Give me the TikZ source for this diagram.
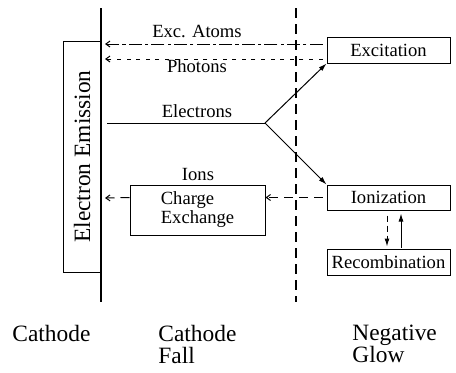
\documentclass[tikz,border=0pt]{standalone}
\usepackage{fontspec}
\setmainfont{Liberation Serif}
\usetikzlibrary{arrows.meta,calc}
\tikzset{
  small/.style={font=\fontsize{9.3}{8.3}\selectfont},
  big/.style={font=\fontsize{11.7}{11}\selectfont},
  box/.style={draw,line width=0.5pt,inner sep=0pt,small},
  lbl/.style={small,inner sep=0pt,anchor=base},
  zone/.style={big,inner sep=0pt,anchor=north west,align=left},
  wall/.style={line width=1.35pt},
  back/.style={-{Straight Barb[length=2.1pt,width=3pt]},line width=0.5pt,shorten <=2pt},
  fwd/.style={-{Latex[length=4pt,width=2.5pt]},line width=0.5pt}
}
\begin{document}
\begin{tikzpicture}[x=0.5pt,y=-0.5pt]
  \useasboundingbox (0,0) rectangle (456,372);
  % cathode surface and edge of the negative glow
  \coordinate (ctop) at (101,8);
  \coordinate (cbot) at (101,302);
  \coordinate (gtop) at (296,8);
  \coordinate (gbot) at (296,302);
  \draw[wall] (ctop) -- (cbot);
  \draw[wall,dash pattern=on 5pt off 3pt] (gtop) -- (gbot);

  \node[box,big,rotate=90,minimum width=115.5pt,minimum height=19pt] (emit) at (82,156.5) {Electron Emission};

  % boxes in the negative glow
  \node[box,minimum width=61.5pt,minimum height=13pt] (exc) at (388.5,50) {Excitation};
  \node[box,minimum width=61.5pt,minimum height=12.5pt] (ion) at (388.5,197.5) {Ionization};
  \node[box,minimum width=61.5pt,minimum height=13pt] (rec) at (388.5,262) {Recombination};
  \node[box,align=left,minimum width=67.5pt,minimum height=25pt] (chg) at (197.5,210) {Charge\\Exchange};

  % points on the cathode
  \coordinate (kexc) at (105,44);
  \coordinate (kph) at (105,59);
  \coordinate (kion) at (105,198);
  \coordinate (kel) at (107,123);
  \coordinate (fork) at (265,123);

  \draw[back,dash pattern=on 6.5pt off 1.6pt on 1.6pt off 1.6pt] ([yshift=3pt]exc.west) -- (kexc);
  \draw[back,dash pattern=on 2pt off 2.8pt] ([yshift=-4.5pt]exc.west) -- (kph);
  \draw[back,dash pattern=on 4.5pt off 3pt] (ion.west) -- (ion.west -| chg.east);
  \draw[back,dash pattern=on 4.5pt off 3pt,shorten <=0pt] (chg.west |- ion.west) -- (kion);

  \draw[line width=0.5pt] (kel) -- (fork);
  \draw[fwd] (fork) -- (exc.south west);
  \draw[fwd] (fork) -- (ion.north west);

  \draw[fwd,dash pattern=on 3pt off 2pt,shorten <=2.5pt,shorten >=1pt] ([xshift=-0.75pt]ion.south) -- ([xshift=-0.75pt]rec.north);
  \draw[fwd,shorten <=0.5pt,shorten >=1.5pt] ([xshift=6.25pt]rec.north) -- ([xshift=6.25pt]ion.south);

  \node[lbl] (lexc) at (197,37) {Exc. Atoms};
  \node[lbl] (lph) at (197,72) {Photons};
  \node[lbl] (lel) at (197,117) {Electrons};
  \node[lbl] (lion) at (198,180) {Ions};

  \node[zone] (zcat) at (12,325) {Cathode};
  \node[zone] (zfall) at (158,325) {Cathode\\Fall};
  \node[zone] (zglow) at (352,325) {Negative\\Glow};
\end{tikzpicture}
\end{document}
